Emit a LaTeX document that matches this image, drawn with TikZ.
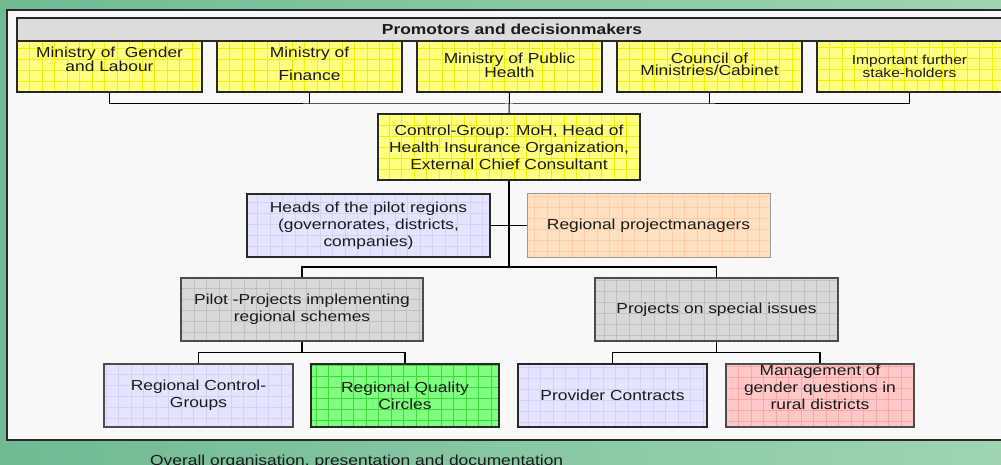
\documentclass[tikz,border=0pt]{standalone}
\usepackage{fontspec}
\setmainfont[FakeStretch=1.2]{Liberation Sans}
\usetikzlibrary{positioning,calc}

\definecolor{bgleft}{RGB}{112,186,146}
\definecolor{bgright}{RGB}{158,212,178}
\definecolor{panelfill}{RGB}{248,248,248}
\definecolor{headgray}{RGB}{220,220,220}
\definecolor{yelfill}{RGB}{255,255,128}
\definecolor{yelgrid}{RGB}{242,242,0}
\definecolor{lavfill}{RGB}{228,228,255}
\definecolor{lavgrid}{RGB}{210,210,245}
\definecolor{peachfill}{RGB}{255,224,192}
\definecolor{peachgrid}{RGB}{255,204,168}
\definecolor{grayfill}{RGB}{216,216,216}
\definecolor{graygrid}{RGB}{192,192,192}
\definecolor{greenfill}{RGB}{128,255,128}
\definecolor{greengrid}{RGB}{60,220,60}
\definecolor{pinkfill}{RGB}{255,200,200}
\definecolor{pinkgrid}{RGB}{255,165,165}
\definecolor{ink}{RGB}{26,26,26}
\definecolor{edge}{RGB}{40,40,40}

% text hanging from the top of a box
\newcommand{\topbox}[4]{\parbox[c][#1][t]{#2}{\vspace*{#3}\centering #4}}

\tikzset{
  unit/.style={draw=edge, line width=1.3pt, inner sep=0pt, align=center, text=ink,
    font=\fontsize{14.5}{17}\selectfont},
  gridbox/.style 2 args={fill=#1, path picture={
    \draw[#2, line width=0.6pt, xstep=12.5pt, ystep=11pt]
      (path picture bounding box.south west) grid (path picture bounding box.north east);}},
  bus/.style={draw=black, line width=1pt},
  link/.style={draw=black, line width=1.6pt},
}

\begin{document}
\begin{tikzpicture}[x=1pt, y=-1pt]
        \useasboundingbox (0,0) rectangle (1001,465);
        \shade[left color=bgleft, right color=bgright] (0,0) rectangle (1001,465);
        \draw[draw=edge, line width=1.3pt, fill=panelfill] (7,10) rectangle (1008,440);

        % Promotors (header bar)
        \node[unit, fill=headgray, minimum width=990, minimum height=23,
          font=\fontsize{14.5}{17}\selectfont\bfseries] (promo) at (512,29.5) {Promotors and decisionmakers};

        % Ministries (top row)
        \node[unit, gridbox={yelfill}{yelgrid}, font=\fontsize{14.5}{12.7}\selectfont] (min1) at (109.5,66.5)
          {\topbox{51pt}{185pt}{5.5pt}{Ministry of\ \ Gender\\and Labour}};
        \node[unit, gridbox={yelfill}{yelgrid}, font=\fontsize{14.5}{12.7}\selectfont] (min2) at (309.5,66.5)
          {\topbox{51pt}{185pt}{5.5pt}{Ministry of\\[9pt]Finance}};
        \node[unit, gridbox={yelfill}{yelgrid}, font=\fontsize{14.5}{12.7}\selectfont] (min3) at (509.5,66.5)
          {\topbox{51pt}{185pt}{11.5pt}{Ministry of Public\\Health}};
        \node[unit, gridbox={yelfill}{yelgrid}, font=\fontsize{14.5}{12.7}\selectfont] (min4) at (709.5,66.5)
          {\topbox{51pt}{185pt}{11.5pt}{Council of\\Ministries/Cabinet}};
        \node[unit, gridbox={yelfill}{yelgrid}, font=\fontsize{13}{12.7}\selectfont] (min5) at (909.5,66.5)
          {\topbox{51pt}{185pt}{14pt}{Important further\\stake-holders}};

        % Control group
        \node[unit, gridbox={yelfill}{yelgrid}, minimum width=262, minimum height=66] (ctrl) at (509,147)
          {Control-Group: MoH, Head of\\Health Insurance Organization,\\External Chief Consultant};

        % Regional heads and managers
        \node[unit, gridbox={lavfill}{lavgrid}, minimum width=243, minimum height=63] (heads) at (368.5,225.5)
          {Heads of the pilot regions\\(governorates, districts,\\companies)};
        \node[unit, draw=gray!80, line width=1pt, gridbox={peachfill}{peachgrid}, minimum width=243, minimum height=63]
          (rpm) at (648.5,225.5) {Regional projectmanagers};

        % Project lines
        \node[unit, draw=black!70, gridbox={grayfill}{graygrid}, minimum width=242, minimum height=63] (pilot) at (302,309.5)
          {Pilot -Projects implementing\\regional schemes};
        \node[unit, draw=black!70, gridbox={grayfill}{graygrid}, minimum width=243, minimum height=63] (special) at (716.5,309.5)
          {Projects on special issues};

        % Bottom row
        \node[unit, draw=black!70, gridbox={lavfill}{lavgrid}, minimum width=189, minimum height=63] (rcg) at (198.5,395.5)
          {Regional Control-\\Groups};
        \node[unit, gridbox={greenfill}{greengrid}, minimum width=188, minimum height=63] (rqc) at (405,395.5)
          {Regional Quality\\Circles};
        \node[unit, gridbox={lavfill}{lavgrid}, minimum width=189, minimum height=63] (pc) at (612.5,395.5)
          {Provider Contracts};
        \node[unit, draw=black!70, gridbox={pinkfill}{pinkgrid}] (mgmt) at (820,395.5)
          {\topbox{63pt}{188pt}{1.5pt}{Management of\\gender questions in\\rural districts}};

        % Caption
        \node[anchor=base west, inner sep=0pt, text=ink, font=\fontsize{14.5}{17}\selectfont] (caption) at (150,465.5)
          {Overall organisation, presentation and documentation};

        % Connectors
        \coordinate (topbus) at (509,104);
        \draw[bus] (min1.south) |- (topbus) -| (min5.south);
        \draw[bus] (min2.south) -- (min2.south |- topbus);
        \draw[bus] (min4.south) -- (min4.south |- topbus);
        \draw[bus] (min3.south) -- (ctrl.north);

        \coordinate (midbus) at (509,267);
        \draw[link] (ctrl.south) -- (midbus);
        \draw[link] (heads.east) -- (rpm.west);
        \draw[link] (pilot.north) |- (midbus) -| (special.north);

        \coordinate (pilotbus) at ($(pilot.south)+(0,11)$);
        \draw[link] (pilot.south) -- (pilotbus);
        \draw[link] (rcg.north) |- (pilotbus) -| (rqc.north);

        \coordinate (specbus) at ($(special.south)+(0,11)$);
        \draw[link] (special.south) -- (specbus);
        \draw[link] (pc.north) |- (specbus) -| (mgmt.north);

    \end{tikzpicture}
\end{document}
